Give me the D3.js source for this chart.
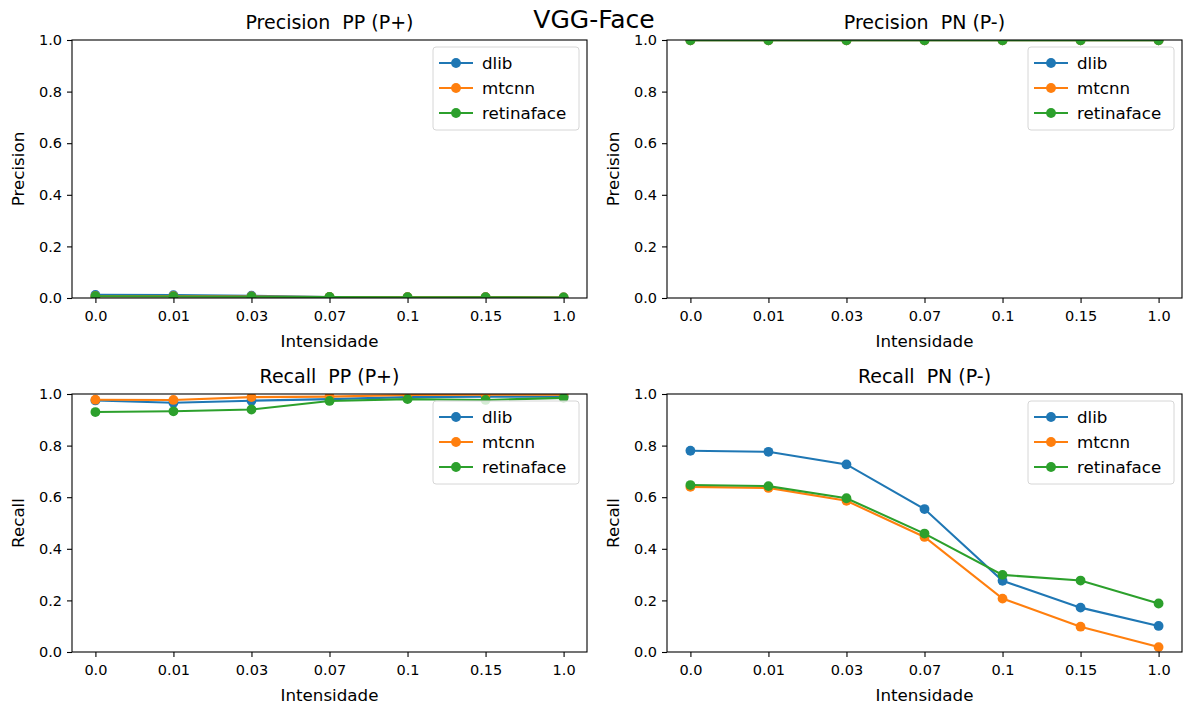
<!DOCTYPE html>
<html>
<head>
<meta charset="utf-8">
<script src="https://cdn.jsdelivr.net/npm/d3@7/dist/d3.min.js"></script>
<style>
  body { margin: 0; background: #fff; }
  svg text { font-family: "DejaVu Sans", sans-serif; fill: #000; white-space: pre; }
</style>
</head>
<body>
<div class="chart"></div>
<script>
const intensities = ["0.0", "0.01", "0.03", "0.07", "0.1", "0.15", "1.0"];
const seriesNames = ["dlib", "mtcnn", "retinaface"];
const colors = ["#1f77b4", "#ff7f0e", "#2ca02c"];
const yTicks = [0, 0.2, 0.4, 0.6, 0.8, 1.0];

// Precision PP (P+)
const precisionPP = [
  [0.012, 0.011, 0.009, 0.004, 0.003, 0.003, 0.002],
  [0.007, 0.007, 0.006, 0.004, 0.003, 0.003, 0.002],
  [0.007, 0.006, 0.005, 0.004, 0.003, 0.003, 0.002]
];
// Precision PN (P-)
const precisionPN = [
  [0.999, 0.999, 0.999, 0.999, 0.999, 0.999, 0.999],
  [0.999, 0.999, 0.999, 0.999, 0.999, 0.999, 0.999],
  [0.999, 0.999, 0.999, 0.999, 0.999, 0.999, 0.999]
];
// Recall PP (P+)
const recallPP = [
  [0.975, 0.966, 0.974, 0.98, 0.988, 0.99, 0.99],
  [0.978, 0.977, 0.988, 0.99, 0.996, 0.997, 0.997],
  [0.93, 0.933, 0.94, 0.973, 0.98, 0.977, 0.985]
];
// Recall PN (P-)
const recallPN = [
  [0.78, 0.776, 0.727, 0.554, 0.276, 0.172, 0.101],
  [0.64, 0.636, 0.586, 0.446, 0.207, 0.098, 0.019],
  [0.647, 0.643, 0.596, 0.459, 0.299, 0.277, 0.188]
];

const panels = [
  { title: "Precision  PP (P+)", ylabel: "Precision", data: precisionPP, x: 72, y: 40 },
  { title: "Precision  PN (P-)", ylabel: "Precision", data: precisionPN, x: 667, y: 40 },
  { title: "Recall  PP (P+)", ylabel: "Recall", data: recallPP, x: 72, y: 394 },
  { title: "Recall  PN (P-)", ylabel: "Recall", data: recallPN, x: 667, y: 394 }
];
const pw = 515, ph = 258;

const svg = d3.select(".chart").append("svg")
  .attr("width", 1184)
  .attr("height", 707);

svg.append("text")
  .attr("x", 594).attr("y", 28)
  .attr("text-anchor", "middle")
  .style("font-size", "25px")
  .text("VGG-Face");

const xScale = d3.scaleLinear().domain([-0.3, 6.3]).range([0, pw]);
const yScale = d3.scaleLinear().domain([0, 1]).range([ph, 0]);

panels.forEach((p, pi) => {
  const g = svg.append("g").attr("transform", `translate(${p.x}, ${p.y})`);

  g.append("clipPath").attr("id", "clip" + pi)
    .append("rect").attr("width", pw).attr("height", ph);

  const xAxis = g.append("g")
    .attr("transform", `translate(0, ${ph})`)
    .call(d3.axisBottom(xScale).tickValues(d3.range(7))
      .tickFormat(i => intensities[i]).tickSize(5).tickPadding(5));
  const yAxis = g.append("g")
    .call(d3.axisLeft(yScale).tickValues(yTicks)
      .tickFormat(d3.format(".1f")).tickSize(5).tickPadding(5));
  [xAxis, yAxis].forEach(a => {
    a.selectAll("path").remove();
    a.selectAll("line").attr("stroke", "#000").attr("stroke-width", 1.1);
    a.selectAll("text").style("font-size", "14.5px")
      .style("font-family", "DejaVu Sans, sans-serif");
  });
  xAxis.selectAll("text").attr("dy", "0.9em");

  const plot = g.append("g").attr("clip-path", `url(#clip${pi})`);
  const line = d3.line().x((d, i) => xScale(i)).y(d => yScale(d));

  p.data.forEach((vals, si) => {
    plot.append("path")
      .attr("d", line(vals))
      .attr("fill", "none")
      .attr("stroke", colors[si])
      .attr("stroke-width", 2.1);
    plot.selectAll(".pt" + si)
      .data(vals)
      .enter()
      .append("circle")
      .attr("cx", (d, i) => xScale(i))
      .attr("cy", d => yScale(d))
      .attr("r", 4.9)
      .attr("fill", colors[si]);
  });

  g.append("rect")
    .attr("width", pw).attr("height", ph)
    .attr("fill", "none").attr("stroke", "#000").attr("stroke-width", 1.1);

  g.append("text")
    .attr("x", pw / 2).attr("y", -11)
    .attr("text-anchor", "middle")
    .style("font-size", "19px")
    .text(p.title);

  g.append("text")
    .attr("x", pw / 2).attr("y", ph + 49)
    .attr("text-anchor", "middle")
    .style("font-size", "16.7px")
    .text("Intensidade");

  g.append("text")
    .attr("transform", `translate(-48, ${ph / 2}) rotate(-90)`)
    .attr("text-anchor", "middle")
    .style("font-size", "16.7px")
    .text(p.ylabel);

  // legend
  const lg = g.append("g").attr("transform", `translate(${pw - 154}, 7)`);
  lg.append("rect")
    .attr("width", 146).attr("height", 83)
    .attr("rx", 3)
    .attr("fill", "#fff").attr("fill-opacity", 0.8)
    .attr("stroke", "#d6d6d6");
  seriesNames.forEach((name, si) => {
    const row = lg.append("g").attr("transform", `translate(0, ${16 + si * 25})`);
    row.append("line")
      .attr("x1", 6).attr("x2", 40)
      .attr("stroke", colors[si]).attr("stroke-width", 2.1);
    row.append("circle").attr("cx", 23).attr("r", 4.9).attr("fill", colors[si]);
    row.append("text")
      .attr("x", 49).attr("dy", "0.35em")
      .style("font-size", "16.7px")
      .text(name);
  });
});
</script>
</body>
</html>
